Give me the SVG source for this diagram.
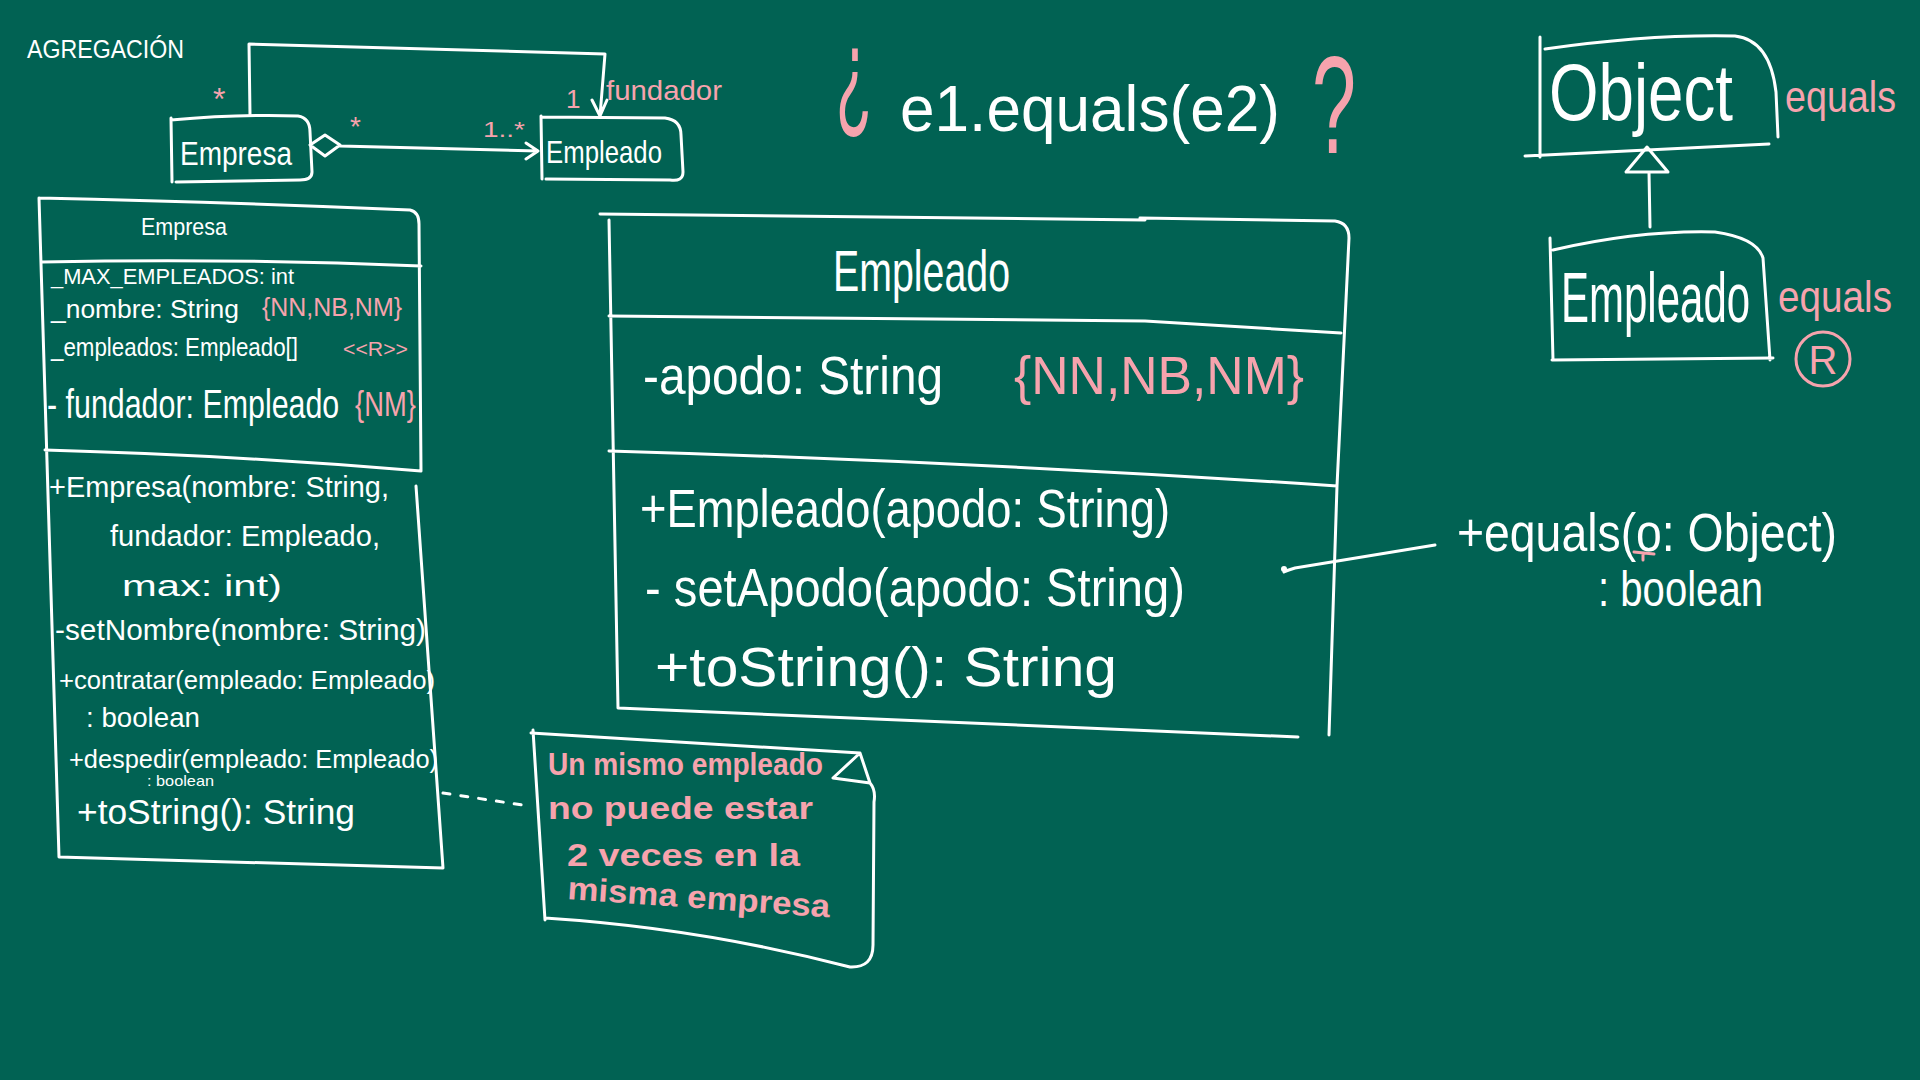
<svg xmlns="http://www.w3.org/2000/svg" width="1920" height="1080" viewBox="0 0 1920 1080">
<style>
.w{fill:none;stroke:#ffffff;stroke-width:3;stroke-linecap:round;stroke-linejoin:round}
.pk{fill:none;stroke:#f6a3ad;stroke-width:3;stroke-linecap:round;stroke-linejoin:round}
.t{font-family:"Liberation Sans",Arial,sans-serif;fill:#ffffff}
.tp{font-family:"Liberation Sans",Arial,sans-serif;fill:#f6a3ad}
.b{font-weight:bold}
</style>
<rect x="0" y="0" width="1920" height="1080" fill="#016253"/>

<g id="title-agregacion">
<text class="t" x="27" y="58" font-size="25" textLength="157" lengthAdjust="spacingAndGlyphs">AGREGACIÓN</text>
</g>

<g id="small-empresa">
<path class="w" d="M171,118 L172,182 M171,120 Q240,114 298,116 Q310,118 310,132 L312,172 Q312,180 300,180 L176,182"/>
<text class="t" x="180" y="165" font-size="34" textLength="112" lengthAdjust="spacingAndGlyphs">Empresa</text>
</g>

<g id="small-empleado">
<path class="w" d="M541,116 L542,179 M541,117 L665,118 Q681,120 681,135 L683,172 Q683,182 670,180 L546,179"/>
<text class="t" x="546" y="163" font-size="32" textLength="116" lengthAdjust="spacingAndGlyphs">Empleado</text>
</g>

<g id="connectors">
<path class="w" d="M250,115 L249,44 L605,54 L600,116 M592,100 L600,116 L607,100"/>
<path class="w" d="M310,145 L325,135 L340,145 L325,156 Z M340,146 L538,151 M526,143 L538,151 L526,159"/>
<path class="w" d="M443,793 L529,806" stroke-dasharray="7,11"/>
<circle cx="1284" cy="569" r="3" fill="#ffffff"/>
<path class="w" d="M1284,572 Q1288,570 1295,568 L1435,545"/>
<path class="w" d="M1649,172 L1650,227 M1647,147 L1626,172 L1668,172 Z"/>
</g>

<g id="connector-labels">
<text class="tp" x="213" y="110" font-size="32">*</text>
<text class="tp" x="566" y="108" font-size="26">1</text>
<text class="tp" x="606" y="100" font-size="28" textLength="116" lengthAdjust="spacingAndGlyphs">fundador</text>
<text class="tp" x="350" y="136" font-size="28">*</text>
<text class="tp" x="483" y="137" font-size="22" textLength="42" lengthAdjust="spacingAndGlyphs">1..*</text>
</g>

<g id="class-empresa">
<path class="w" d="M39,198 L59,857 M39,198 Q230,202 410,210 Q419,212 419,224 L421,471 M42,262 Q230,258 421,266 M45,450 Q230,455 421,471 M416,486 L443,868 M59,857 L443,868"/>
<text class="t" x="141" y="235" font-size="24" textLength="86" lengthAdjust="spacingAndGlyphs">Empresa</text>
<text class="t" x="51" y="284" font-size="22" textLength="243" lengthAdjust="spacingAndGlyphs">_MAX_EMPLEADOS: int</text>
<text class="t" x="51" y="318" font-size="26" textLength="188" lengthAdjust="spacingAndGlyphs">_nombre: String</text>
<text class="tp" x="262" y="316" font-size="25" textLength="140" lengthAdjust="spacingAndGlyphs">{NN,NB,NM}</text>
<text class="t" x="51" y="356" font-size="25" textLength="247" lengthAdjust="spacingAndGlyphs">_empleados: Empleado[]</text>
<text class="tp" x="343" y="356" font-size="21" textLength="65" lengthAdjust="spacingAndGlyphs">&lt;&lt;R&gt;&gt;</text>
<text class="t" x="47" y="418" font-size="40" transform="matrix(0.76,0,0,1,11.28,0)">- fundador: Empleado</text>
<text class="tp" x="355" y="416" font-size="36" transform="matrix(0.76,0,0,1,85.2,0)">{NM}</text>
<text class="t" x="49" y="497" font-size="29" textLength="340" lengthAdjust="spacingAndGlyphs">+Empresa(nombre: String,</text>
<text class="t" x="110" y="546" font-size="29" textLength="270" lengthAdjust="spacingAndGlyphs">fundador: Empleado,</text>
<text class="t" x="122" y="596" font-size="30" textLength="160" lengthAdjust="spacingAndGlyphs">max: int)</text>
<text class="t" x="55" y="640" font-size="30" textLength="371" lengthAdjust="spacingAndGlyphs">-setNombre(nombre: String)</text>
<text class="t" x="59" y="689" font-size="26" textLength="376" lengthAdjust="spacingAndGlyphs">+contratar(empleado: Empleado)</text>
<text class="t" x="86" y="727" font-size="28" textLength="114" lengthAdjust="spacingAndGlyphs">: boolean</text>
<text class="t" x="69" y="768" font-size="25" textLength="369" lengthAdjust="spacingAndGlyphs">+despedir(empleado: Empleado)</text>
<text class="t" x="147" y="786" font-size="15" textLength="67" lengthAdjust="spacingAndGlyphs">: boolean</text>
<text class="t" x="77" y="824" font-size="35" textLength="278" lengthAdjust="spacingAndGlyphs">+toString(): String</text>
</g>

<g id="note">
<path class="w" d="M533,730 L545,920 M531,733 L860,753 M860,753 L833,778 L870,783 Z M870,783 Q876,790 874,802 L873,945 Q873,968 850,967 M545,918 Q700,928 850,967"/>
<text class="tp b" x="548" y="775" font-size="32" textLength="275" lengthAdjust="spacingAndGlyphs">Un mismo empleado</text>
<text class="tp b" x="548" y="819" font-size="32" textLength="265" lengthAdjust="spacingAndGlyphs">no puede estar</text>
<text class="tp b" x="567" y="866" font-size="32" textLength="233" lengthAdjust="spacingAndGlyphs">2 veces en la</text>
<text class="tp b" x="567" y="899" font-size="32" textLength="263" lengthAdjust="spacingAndGlyphs" transform="rotate(4 567 899)">misma empresa</text>
</g>

<g id="question">
<text class="tp" x="836" y="116" font-size="126" textLength="36" lengthAdjust="spacingAndGlyphs">¿</text>
<text class="t" x="900" y="131" font-size="64" textLength="380" lengthAdjust="spacingAndGlyphs">e1.equals(e2)</text>
<text class="tp" x="1312" y="153" font-size="140" textLength="44" lengthAdjust="spacingAndGlyphs">?</text>
</g>

<g id="class-empleado">
<path class="w" d="M600,214 L1145,220 M1140,218 L1335,221 Q1349,223 1349,238 L1337,486 L1329,735 M609,220 L618,708 M609,316 L1145,321 L1341,333 M609,451 Q980,462 1337,486 M618,708 L1298,737"/>
<text class="t" x="833" y="291" font-size="58" textLength="177" lengthAdjust="spacingAndGlyphs">Empleado</text>
<text class="t" x="643" y="394" font-size="54" textLength="300" lengthAdjust="spacingAndGlyphs">-apodo: String</text>
<text class="tp" x="1014" y="394" font-size="54" textLength="290" lengthAdjust="spacingAndGlyphs">{NN,NB,NM}</text>
<text class="t" x="640" y="527" font-size="54" textLength="530" lengthAdjust="spacingAndGlyphs">+Empleado(apodo: String)</text>
<text class="t" x="645" y="606" font-size="54" textLength="540" lengthAdjust="spacingAndGlyphs">- setApodo(apodo: String)</text>
<text class="t" x="655" y="686" font-size="56" textLength="462" lengthAdjust="spacingAndGlyphs">+toString(): String</text>
</g>

<g id="equals-method">
<text class="t" x="1457" y="551" font-size="54" textLength="380" lengthAdjust="spacingAndGlyphs">+equals(o: Object)</text>
<text class="t" x="1598" y="606" font-size="50" textLength="165" lengthAdjust="spacingAndGlyphs">: boolean</text>
<path class="pk" d="M1634,552 L1654,554 M1643,553 L1643,560"/>
</g>

<g id="object">
<path class="w" d="M1540,37 L1540,157 M1545,49 Q1650,34 1735,36 Q1770,40 1776,92 L1778,137 M1525,156 L1769,144"/>
<text class="t" x="1549" y="120" font-size="80" textLength="184" lengthAdjust="spacingAndGlyphs">Object</text>
<text class="tp" x="1785" y="112" font-size="44" textLength="111" lengthAdjust="spacingAndGlyphs">equals</text>
</g>

<g id="empleado-subclass">
<path class="w" d="M1550,238 L1553,360 M1553,250 Q1640,230 1715,232 Q1757,238 1763,258 L1770,360 M1552,360 L1773,358"/>
<text class="t" x="1561" y="322" font-size="70" transform="matrix(0.6,0,0,1,624.4,0)">Empleado</text>
<text class="tp" x="1778" y="312" font-size="44" textLength="114" lengthAdjust="spacingAndGlyphs">equals</text>
<circle class="pk" cx="1823" cy="359" r="27"/>
<text class="tp" x="1823" y="374" font-size="40" text-anchor="middle">R</text>
</g>
</svg>
